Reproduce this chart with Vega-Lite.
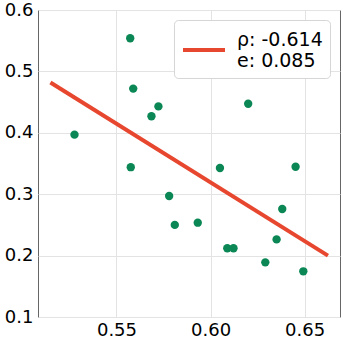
{
  "$schema": "https://vega.github.io/schema/vega-lite/v6.json",
  "width": 302,
  "height": 307,
  "autosize": {"type": "none"},
  "padding": {"left": 38, "top": 10, "right": 3, "bottom": 26},
  "background": "white",
  "config": {
    "view": {"stroke": "#666666", "strokeWidth": 1},
    "font": "DejaVu Sans",
    "axis": {
      "domain": false,
      "ticks": false,
      "grid": true,
      "gridColor": "#e3e3e3",
      "gridWidth": 1,
      "labelFont": "DejaVu Sans",
      "labelFontSize": 18,
      "labelColor": "black",
      "title": null
    }
  },
  "datasets": {
    "pts": [
      {"x": 0.5277, "y": 0.397},
      {"x": 0.5573, "y": 0.554},
      {"x": 0.5589, "y": 0.472},
      {"x": 0.5576, "y": 0.344},
      {"x": 0.5686, "y": 0.427},
      {"x": 0.5723, "y": 0.443},
      {"x": 0.578, "y": 0.297},
      {"x": 0.581, "y": 0.250},
      {"x": 0.5932, "y": 0.2536},
      {"x": 0.605, "y": 0.3427},
      {"x": 0.6089, "y": 0.212},
      {"x": 0.6122, "y": 0.212},
      {"x": 0.620, "y": 0.4474},
      {"x": 0.6291, "y": 0.189},
      {"x": 0.6351, "y": 0.2264},
      {"x": 0.6381, "y": 0.2759},
      {"x": 0.6452, "y": 0.3448},
      {"x": 0.6493, "y": 0.1744}
    ],
    "fit": [
      {"x": 0.5149, "y": 0.482, "label": "ρ: -0.614|e: 0.085"},
      {"x": 0.6624, "y": 0.200, "label": "ρ: -0.614|e: 0.085"}
    ]
  },
  "layer": [
    {
      "data": {"name": "pts"},
      "mark": {"type": "circle", "size": 70, "color": "#0a8754", "opacity": 1},
      "encoding": {
        "x": {"field": "x", "type": "quantitative", "scale": {"domain": [0.5083, 0.6688], "nice": false, "zero": false}, "axis": {"values": [0.55, 0.6, 0.65], "format": ".2f", "labelPadding": 4}},
        "y": {"field": "y", "type": "quantitative", "scale": {"domain": [0.1, 0.6], "nice": false, "zero": false}, "axis": {"values": [0.1, 0.2, 0.3, 0.4, 0.5, 0.6], "format": ".1f", "labelPadding": 5}}
      }
    },
    {
      "data": {"name": "fit"},
      "mark": {"type": "line", "strokeWidth": 4},
      "encoding": {
        "x": {"field": "x", "type": "quantitative"},
        "y": {"field": "y", "type": "quantitative"},
        "color": {
          "field": "label",
          "type": "nominal",
          "scale": {"range": ["#e8472f"]},
          "legend": {
            "title": null,
            "orient": "top-right",
            "offset": 10,
            "labelExpr": "split(datum.label, '|')",
            "labelFont": "DejaVu Sans",
            "labelFontSize": 19,
            "labelColor": "black",
            "labelOffset": 10,
            "symbolType": "stroke",
            "symbolSize": 1764,
            "symbolStrokeWidth": 4,
            "strokeColor": "#d6d6d6",
            "cornerRadius": 4,
            "fillColor": "white",
            "padding": 7,
            "labelLimit": 300,
            "encode": {"labels": {"update": {"lineHeight": {"value": 21}, "dy": {"value": -10.5}}}}
          }
        }
      }
    }
  ]
}
